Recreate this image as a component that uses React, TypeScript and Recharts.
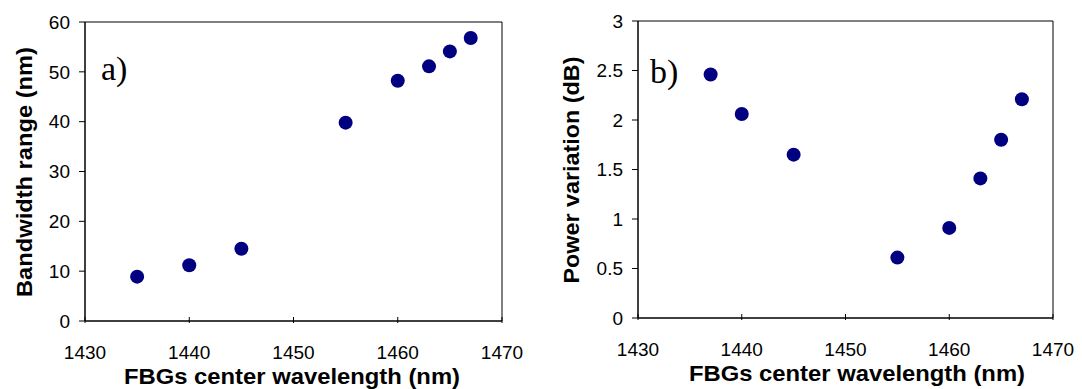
import { ScatterChart, Scatter, XAxis, YAxis, ReferenceArea } from 'recharts';

// panel a) bandwidth range
const wavelengthA = [1435, 1440, 1445, 1455, 1460, 1463, 1465, 1467];
const bandwidth = [8.9, 11.2, 14.5, 39.8, 48.2, 51.1, 54.1, 56.8];

// panel b) power variation
const wavelengthB = [1437, 1440, 1445, 1455, 1460, 1463, 1465, 1467];
const powerVar = [2.46, 2.06, 1.65, 0.61, 0.91, 1.41, 1.8, 2.21];

const xTicks = [1430, 1440, 1450, 1460, 1470];
const yTicksA = [0, 10, 20, 30, 40, 50, 60];
const yTicksB = [0, 0.5, 1, 1.5, 2, 2.5, 3];

const SANS = '"Liberation Sans", Arial, sans-serif';
const SERIF = '"Liberation Serif", "Times New Roman", serif';
const NAVY = '#000080';

const dataA = wavelengthA.map((x, i) => ({ x, y: bandwidth[i] }));
const dataB = wavelengthB.map((x, i) => ({ x, y: powerVar[i] }));

function XTick(props: any) {
  const { x, y, payload } = props;
  return (
    <g>
      <line x1={x} x2={x} y1={y} y2={y - 6} stroke="#000" strokeWidth={1} />
      <text x={x} y={y + 36} textAnchor="middle" fontSize={19} fontFamily={SANS} fill="#000">
        {payload.value}
      </text>
    </g>
  );
}

function Dot(props: any) {
  return <circle cx={props.cx} cy={props.cy} r={7} fill={NAVY} />;
}

interface PanelProps {
  data: { x: number; y: number }[];
  yTicks: number[];
  yMax: number;
  margin: { top: number; right: number; bottom: number; left: number };
  tag: string;
  tagPos: [number, number];
  yTitle: string;
  yTitlePos: [number, number];
  yTitleLen: number;
  xTitlePos: [number, number];
}

function Panel(p: PanelProps) {
  return (
    <ScatterChart width={541} height={389} margin={p.margin}>
      <XAxis
        type="number"
        dataKey="x"
        domain={[1430, 1470]}
        ticks={xTicks}
        interval={0}
        height={40}
        tickSize={0}
        tickLine={false}
        axisLine={{ stroke: '#000' }}
        tick={<XTick />}
      />
      <YAxis
        type="number"
        dataKey="y"
        domain={[0, p.yMax]}
        ticks={p.yTicks}
        interval={0}
        width={60}
        tickSize={6}
        tickMargin={9}
        axisLine={{ stroke: '#000' }}
        tickLine={{ stroke: '#000' }}
        tick={{ fill: '#000', fontSize: 19, fontFamily: SANS }}
      />
      <ReferenceArea x1={1430} x2={1470} y1={0} y2={p.yMax} fill="none" stroke="#000" strokeWidth={1} />
      <Scatter data={p.data} fill={NAVY} shape={<Dot />} isAnimationActive={false} />
      <text x={p.tagPos[0]} y={p.tagPos[1]} fontFamily={SERIF} fontSize={34} fill="#000">
        {p.tag}
      </text>
      <text
        x={p.yTitlePos[0]}
        y={p.yTitlePos[1]}
        transform={`rotate(-90, ${p.yTitlePos[0]}, ${p.yTitlePos[1]})`}
        textAnchor="middle"
        dominantBaseline="central"
        fontFamily={SANS}
        fontWeight="bold"
        fontSize={22}
        textLength={p.yTitleLen}
        lengthAdjust="spacingAndGlyphs"
        fill="#000"
      >
        {p.yTitle}
      </text>
      <text
        x={p.xTitlePos[0]}
        y={p.xTitlePos[1]}
        textAnchor="middle"
        fontFamily={SANS}
        fontWeight="bold"
        fontSize={22}
        textLength={336}
        lengthAdjust="spacingAndGlyphs"
        fill="#000"
      >
        FBGs center wavelength (nm)
      </text>
    </ScatterChart>
  );
}

export default function App() {
  return (
    <div style={{ position: 'absolute', left: 0, top: 0, width: 1082, height: 389, background: '#fff' }}>
      <div style={{ position: 'absolute', left: 0, top: 0 }}>
        <Panel
          data={dataA}
          yTicks={yTicksA}
          yMax={60}
          margin={{ top: 22, right: 39, bottom: 28, left: 25 }}
          tag="a)"
          tagPos={[101, 80]}
          yTitle="Bandwidth range (nm)"
          yTitlePos={[24, 172]}
          yTitleLen={250}
          xTitlePos={[292, 384]}
        />
      </div>
      <div style={{ position: 'absolute', left: 541, top: 0 }}>
        <Panel
          data={dataB}
          yTicks={yTicksB}
          yMax={3}
          margin={{ top: 21, right: 29, bottom: 31, left: 37 }}
          tag="b)"
          tagPos={[109, 83]}
          yTitle="Power variation (dB)"
          yTitlePos={[30, 170]}
          yTitleLen={227}
          xTitlePos={[316, 381]}
        />
      </div>
    </div>
  );
}
